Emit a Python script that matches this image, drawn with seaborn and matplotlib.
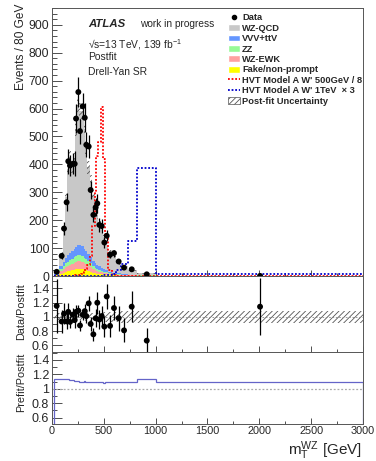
import numpy as np
import pandas as pd
import matplotlib
matplotlib.use("Agg")
import matplotlib.pyplot as plt
import matplotlib.ticker as mticker
from matplotlib.patches import Patch
from matplotlib.lines import Line2D
import seaborn as sns

# binning (GeV) and bin centres
edges = [20, 69, 105, 128, 149, 165, 187, 210, 226, 243, 262, 283, 306, 323, 342, 363,
         386, 410, 429, 447, 468, 492, 516, 544, 579, 620, 669, 730, 820, 1000, 3000]
centers = [45, 93, 116, 141, 157, 174, 200, 219, 232, 254, 270, 296, 316, 331, 354, 373,
           399, 421, 437, 457, 479, 505, 528, 560, 598, 643, 695, 769, 914, 2007]

# data, events / 80 GeV
data = [15, 72, 170, 264, 411, 396, 402, 402, 564, 659, 519, 608, 567, 470, 464, 308,
        219, 246, 260, 183, 179, 120, 144, 76, 82, 52, 30, 24, 6, 0.32]

# post-fit backgrounds, events / 80 GeV
wz_qcd = [7, 42, 113, 216, 309, 344, 300, 323, 422, 495, 478, 485, 427, 375, 312, 274,
          236, 205, 177, 154, 147, 115, 91, 71, 61, 44, 30, 16, 6, 0.18]
vvv_ttv = [1, 11, 15, 21, 24, 26, 29, 31, 33, 36, 36, 35, 32, 30, 26, 23,
           19, 17, 14, 13, 11, 9, 8, 6, 4.5, 3.5, 2.8, 2, 1.2, 0.03]
zz = [1, 7, 10, 13, 15, 16, 18, 20, 21, 22, 22, 21, 20, 18, 16, 14,
      11, 9, 8, 7, 6, 5, 4, 3, 2.5, 1.8, 1.4, 1, 0.6, 0.02]
wz_ewk = [2, 9, 13, 17, 19, 21, 22, 24, 26, 28, 28, 26, 24, 22, 19, 17,
          13, 11, 10, 9, 7, 6, 5, 4, 3, 2.2, 1.8, 1.2, 0.8, 0.03]
fake = [2, 8, 12, 15, 17, 19, 21, 23, 25, 26, 26, 24, 22, 20, 17, 14,
        11, 9, 8, 7, 6, 4, 4, 3, 2, 1.5, 1, 0.8, 0.4, 0.02]

# signals (already scaled)
hvt_500 = [0.5, 0.5, 0.5, 0.5, 0.5, 0.5, 1, 1, 2, 2, 3, 8, 15, 25, 40, 70,
           180, 300, 430, 480, 605, 420, 150, 20, 2, 1, 1, 1, 1, 1.5]
hvt_1000 = [1, 1, 1, 1, 1, 1, 1, 1, 1, 1, 1, 1, 1, 1, 1, 1,
            1, 1, 1, 1, 1, 2, 3, 5, 8, 20, 42, 126, 387, 7]

# relative post-fit uncertainty and prefit/postfit ratio
post_unc = [0.05, 0.05, 0.05, 0.05, 0.05, 0.05, 0.05, 0.05, 0.05, 0.05, 0.05, 0.05, 0.05, 0.06, 0.06, 0.06,
            0.06, 0.06, 0.06, 0.06, 0.07, 0.07, 0.07, 0.07, 0.07, 0.07, 0.08, 0.08, 0.08, 0.08]
prefit_ratio = [1.14, 1.13, 1.14, 1.13, 1.13, 1.12, 1.12, 1.11, 1.11, 1.11, 1.10, 1.10, 1.11, 1.10, 1.09, 1.09,
                1.10, 1.10, 1.09, 1.10, 1.10, 1.08, 1.09, 1.10, 1.10, 1.10, 1.10, 1.10, 1.13, 1.09]

procs = ["WZ-QCD", "VVV+ttV", "ZZ", "WZ-EWK", "Fake/non-prompt"]
colors = ["#c8c8c8", "#6496ff", "#96fa96", "#ffa0a0", "#ffff00"]

sns.set_style("ticks")
plt.rcParams["font.family"] = ["Liberation Sans", "DejaVu Sans"]
plt.rcParams["mathtext.default"] = "regular"
plt.rcParams["hatch.linewidth"] = 0.6

edges_a = np.array(edges, float)
centers_a = np.array(centers, float)
data_a = np.array(data, float)
widths = np.diff(edges_a)
total = np.sum([wz_qcd, vvv_ttv, zz, wz_ewk, fake], axis=0)
data_err = np.sqrt(data_a * widths / 80) * 80 / widths
unc = np.array(post_unc)

df = pd.DataFrame({
    "mass": np.tile(centers_a, 5),
    "events": np.concatenate([wz_qcd, vvv_ttv, zz, wz_ewk, fake]),
    "process": np.repeat(procs, len(centers)),
})

fig = plt.figure(figsize=(3.76, 4.61), dpi=100)
ax = fig.add_axes([0.1383, 0.4013, 0.8271, 0.5813])
axr = fig.add_axes([0.1383, 0.2364, 0.8271, 0.1649])
axp = fig.add_axes([0.1383, 0.0813, 0.8271, 0.1551])

# main panel
sns.histplot(data=df, x="mass", weights="events", hue="process", hue_order=procs,
             palette=colors, bins=edges, multiple="stack", element="step",
             linewidth=0, alpha=1, legend=False, ax=ax)
ax.fill_between(edges_a, np.append(total * (1 - unc), 0), np.append(total * (1 + unc), 0),
                step="post", facecolor="none", edgecolor="#555555", hatch="//////", linewidth=0)
sns.histplot(x=centers_a, weights=hvt_500, bins=edges, element="step", fill=False,
             color="#ff0000", linestyle=(0, (1, 1)), linewidth=1.3, ax=ax)
sns.histplot(x=centers_a, weights=hvt_1000, bins=edges, element="step", fill=False,
             color="#0000cc", linestyle=(0, (1, 1)), linewidth=1.3, ax=ax)
ax.errorbar(centers_a, data_a, yerr=data_err, fmt="none", ecolor="black", elinewidth=0.9, zorder=5)
sns.scatterplot(x=centers_a, y=data_a, color="black", s=18, edgecolor="none", zorder=6, ax=ax)

ax.set_xlim(0, 3000)
ax.set_ylim(0, 960)
ax.set_xlabel("")
ax.set_ylabel("")
ax.yaxis.set_major_locator(mticker.MultipleLocator(100))
ax.yaxis.set_minor_locator(mticker.MultipleLocator(20))
ax.tick_params(labelbottom=False)

ax.text(0.116, 0.94, "ATLAS", transform=ax.transAxes, fontsize=8.2, fontweight="bold",
        fontstyle="italic", va="center")
ax.text(0.283, 0.94, "work in progress", transform=ax.transAxes, fontsize=7.3, va="center")
ax.text(0.116, 0.862, "√s=13 TeV, 139 fb$^{-1}$", transform=ax.transAxes, fontsize=7.4, va="center")
ax.text(0.116, 0.817, "Postfit", transform=ax.transAxes, fontsize=7.4, va="center")
ax.text(0.116, 0.761, "Drell-Yan SR", transform=ax.transAxes, fontsize=7.4, va="center")

handles = [
    Line2D([], [], color="black", marker="o", markersize=3, linestyle="none"),
    Patch(facecolor=colors[0]), Patch(facecolor=colors[1]), Patch(facecolor=colors[2]),
    Patch(facecolor=colors[3]), Patch(facecolor=colors[4]),
    Line2D([], [], color="#ff0000", linestyle=(0, (1, 1)), linewidth=1.3),
    Line2D([], [], color="#0000cc", linestyle=(0, (1, 1)), linewidth=1.3),
    Patch(facecolor="white", edgecolor="#555555", hatch="//////", linewidth=0.5),
]
labels = ["Data", "WZ-QCD", "VVV+ttV", "ZZ", "WZ-EWK", "Fake/non-prompt",
          "HVT Model A W' 500GeV / 8", "HVT Model A W' 1TeV  × 3", "Post-fit Uncertainty"]
ax.legend(handles, labels, loc="upper left", bbox_to_anchor=(0.566, 0.98), frameon=False,
          prop={"size": 6.7, "weight": "bold"}, handlelength=1.3, handleheight=0.75,
          handletextpad=0.22, labelspacing=0.15, borderpad=0, borderaxespad=0)

# data / postfit
ratio = data_a / total
ratio_err = data_err / total
axr.fill_between(edges_a, np.append(1 - unc, 1 - unc[-1]), np.append(1 + unc, 1 + unc[-1]),
                 step="post", facecolor="none", edgecolor="#555555", hatch="//////", linewidth=0)
axr.axhline(1, color="#888888", linewidth=0.6, linestyle=(0, (2, 2)))
axr.errorbar(centers_a, ratio, yerr=ratio_err, fmt="none", ecolor="black", elinewidth=0.9, zorder=5)
sns.scatterplot(x=centers_a, y=ratio, color="black", s=18, edgecolor="none", zorder=6, ax=axr)
axr.set_xlim(0, 3000)
axr.set_ylim(0.507, 1.573)
axr.tick_params(labelbottom=False)

# prefit / postfit
axp.stairs(prefit_ratio, edges, color="#6464c8", linewidth=0.9)
axp.axhline(1, color="#aaaaaa", linewidth=0.9, linestyle=(0, (1.5, 1.5)))
axp.set_xlim(0, 3000)
axp.set_ylim(0.517, 1.51)

for a in (axr, axp):
    a.yaxis.set_major_locator(mticker.FixedLocator([0.6, 0.8, 1.0, 1.2, 1.4]))
    a.yaxis.set_major_formatter(mticker.FuncFormatter(lambda v, p: "%g" % round(v, 1)))
    a.yaxis.set_minor_locator(mticker.MultipleLocator(0.1))

for a in (ax, axr, axp):
    a.xaxis.set_major_locator(mticker.MultipleLocator(500))
    a.xaxis.set_minor_locator(mticker.MultipleLocator(250))
    a.tick_params(which="both", direction="in", color="#333333", width=0.6, pad=2)
    a.tick_params(which="major", axis="y", length=7, labelsize=9)
    a.tick_params(which="minor", axis="y", length=3.5)
    a.tick_params(which="major", axis="x", length=4, labelsize=7.8, pad=2)
    a.tick_params(which="minor", axis="x", length=2)
    for s in a.spines.values():
        s.set_color("#555555")
        s.set_linewidth(0.7)
ax.tick_params(axis="y", labelsize=8.7)

fig.text(0.056, 0.993, "Events / 80 GeV", rotation=90, ha="center", va="top", fontsize=8.6)
fig.text(0.056, 1 - 312 / 461, "Data/Postfit", rotation=90, ha="center", va="center", fontsize=7.8)
fig.text(0.056, 1 - 382 / 461, "Prefit/Postfit", rotation=90, ha="center", va="center", fontsize=7.8)
fig.text(362 / 376, 1 - 451 / 461, r"m$_{T}^{WZ}$ [GeV]", ha="right", va="center", fontsize=11)

fig.savefig("out.png", dpi=100)
